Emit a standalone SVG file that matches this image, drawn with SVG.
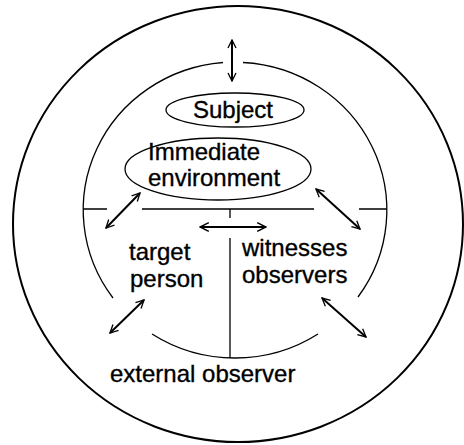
<svg xmlns="http://www.w3.org/2000/svg" width="464" height="445" viewBox="0 0 464 445">
<style>
.t{font-family:"Liberation Sans",Arial,sans-serif;font-size:24px;fill:#000;stroke:#000;stroke-width:0.35;}
.thin{fill:none;stroke:#000;stroke-width:1.3;}
.arr{fill:none;stroke:#000;stroke-width:2;marker-start:url(#h);marker-end:url(#h);}
</style>
<defs>
<marker id="h" viewBox="0 0 10 10" refX="9" refY="5" markerWidth="5" markerHeight="5" orient="auto-start-reverse" markerUnits="strokeWidth">
<path d="M1,1 L9,5 L1,9" fill="none" stroke="#000" stroke-width="1.3"/>
</marker>
<marker id="hb" viewBox="0 0 10 10" refX="9" refY="5" markerWidth="5" markerHeight="8" orient="auto-start-reverse" markerUnits="strokeWidth">
<path d="M1,1 L9,5 L1,9" fill="none" stroke="#000" stroke-width="1.3"/>
</marker>
</defs>
<g id="outer">
<ellipse cx="238" cy="224" rx="225" ry="218" fill="none" stroke="#000" stroke-width="2"/>
</g>
<g id="inner-circle">
<path class="thin" d="M223,62.5 A152,148 0 0 0 113,298"/>
<path class="thin" d="M243,62.5 A152,148 0 0 1 358,297"/>
<path class="thin" d="M152,334 A152,148 0 0 0 318,334"/>
</g>
<g id="dividers">
<path class="thin" d="M83,209 H107 M142,209 H314 M359,209 H387"/>
<path class="thin" d="M230,209 V218 M230,238 V358"/>
</g>
<g id="subject">
<ellipse cx="235" cy="110" rx="69" ry="17" class="thin"/>
<text class="t" x="233" y="118" text-anchor="middle">Subject</text>
</g>
<g id="environment">
<ellipse cx="218" cy="169" rx="93" ry="31" class="thin"/>
<text class="t" x="148" y="160">Immediate</text>
<text class="t" x="148" y="186">environment</text>
</g>
<g id="target">
<text class="t" x="129" y="260">target</text>
<text class="t" x="130" y="287">person</text>
</g>
<g id="witnesses">
<text class="t" x="242" y="256">witnesses</text>
<text class="t" x="242" y="283">observers</text>
</g>
<g id="external">
<text class="t" x="110" y="382">external observer</text>
</g>
<g id="connectors">
<line class="arr" x1="232" y1="40" x2="232" y2="81"/>
<line class="arr" x1="140" y1="193" x2="106" y2="228"/>
<line class="arr" x1="316" y1="189" x2="360" y2="229"/>
<line x1="200" y1="227" x2="266" y2="227" fill="none" stroke="#000" stroke-width="2.2" marker-start="url(#hb)" marker-end="url(#hb)"/>
<line class="arr" x1="144" y1="300" x2="110" y2="333"/>
<line class="arr" x1="322" y1="298" x2="366" y2="337"/>
</g>
</svg>
